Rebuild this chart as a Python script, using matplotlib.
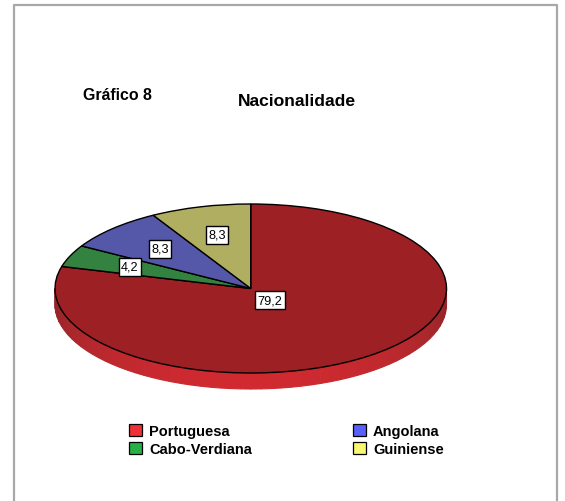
import numpy as np
import matplotlib
matplotlib.use('Agg')
import matplotlib.pyplot as plt
from matplotlib.lines import Line2D
from matplotlib.patches import Patch

plt.rcParams['font.family'] = ['Liberation Sans', 'DejaVu Sans']

# data
categories = ['Portuguesa', 'Cabo-Verdiana', 'Angolana', 'Guiniense']
values = [79.2, 4.2, 8.3, 8.3]
value_labels = ['79,2', '4,2', '8,3', '8,3']
top_colors = ['#9c2024', '#338240', '#5558a8', '#b0ae60']
legend_colors = ['#f03038', '#28b048', '#5860f8', '#f8f870']

W, H = 565, 502
fig = plt.figure(figsize=(W/100, H/100), dpi=100, facecolor='white')

def px_axes(x0, y0, x1, y1):
    # axes from pixel box, y measured from top
    return fig.add_axes([x0/W, 1-y1/H, (x1-x0)/W, (y1-y0)/H])

# outer frame, open at the bottom (runs off the picture)
frame_x = np.array([14, 14, 557, 557])/W
frame_y = 1-np.array([502, 6, 6, 502])/H
fig.add_artist(Line2D(frame_x, frame_y, transform=fig.transFigure, color='#a8a8a8', lw=1.6))

# pie, squashed to an ellipse
ax = px_axes(55, 205, 446.5, 374)
wedges, _ = ax.pie(values, startangle=90, counterclock=False, colors=top_colors, radius=1,
                   wedgeprops=dict(ec='black', lw=1.0), frame=False)
ax.set_aspect('auto')
ax.set_xlim(-1, 1)
ax.set_ylim(-1, 1)
for w in wedges:
    w.set_zorder(3)
    w.set_clip_on(False)

# side wall under the front of the pie
depth = 16/84.5
n = 60
ang = np.linspace(np.pi, 2*np.pi, n+1)
for i in range(n):
    aa = np.linspace(ang[i], ang[i+1], 4)
    xs = np.r_[np.cos(aa), np.cos(aa[::-1])]
    ys = np.r_[np.sin(aa), np.sin(aa[::-1])-depth]
    t = np.sin((i+.5)/n*np.pi)  # brightest at the front
    col = (np.array([0x8e, 0x24, 0x28])*(1-t) + np.array([0xd0, 0x2a, 0x30])*t)/255
    ax.fill(xs, ys, fc=col, ec=col, lw=0.8, zorder=1, clip_on=False)

# value boxes
label_px = [(270, 301), (130, 268), (160, 250), (217, 236)]
for lab, (px, py) in zip(value_labels, label_px):
    fig.text(px/W, 1-py/H, lab, fontsize=9.2, ha='center', va='center', color='black', zorder=5,
             bbox=dict(boxstyle='square,pad=0.2', fc='white', ec='black', lw=1.0))

fig.text(83.3/W, 1-96/H, 'Gráfico 8', fontsize=11.4, fontweight='bold', ha='left', va='center')
fig.text(297/W, 1-101.5/H, 'Nacionalidade', fontsize=12.6, fontweight='bold', ha='center', va='center')

# legend filled by columns: Portuguesa, Cabo-Verdiana / Angolana, Guiniense
handles = [Patch(fc=c, ec='black', lw=0.9, label=lab) for c, lab in zip(legend_colors, categories)]
fig.legend(handles=handles, ncols=2, loc='upper left', bbox_to_anchor=(117/W, 1-413/H), frameon=False,
           prop=dict(size=10.5, weight='bold'), handlelength=0.9, handleheight=0.9,
           handletextpad=0.5, columnspacing=6.9, labelspacing=0.28, borderpad=0.3)

fig.savefig('out.png', dpi=100)
